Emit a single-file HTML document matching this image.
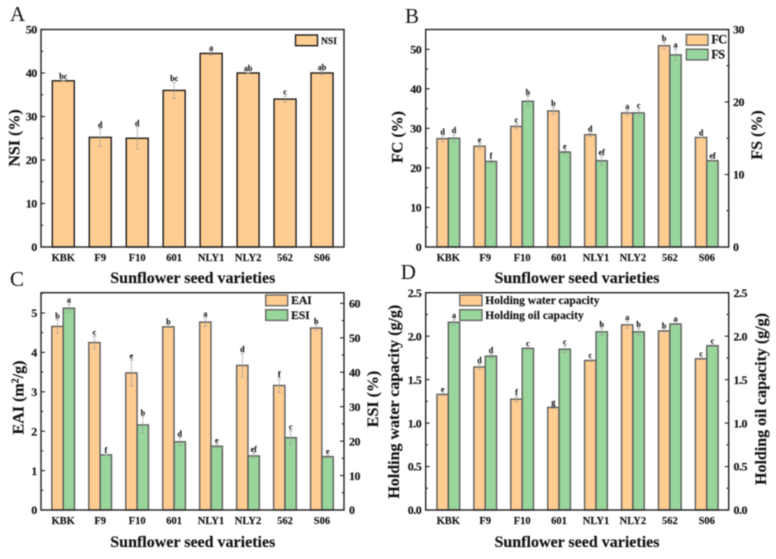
<!DOCTYPE html>
<html>
<head>
<meta charset="utf-8">
<title>Sunflower seed varieties functional properties</title>
<style>
html,body{margin:0;padding:0;background:#fff;}
svg{display:block;filter:blur(0.42px);}
text{font-family:"Liberation Serif",serif;font-weight:bold;fill:#141414;stroke:#141414;stroke-width:0.15px;}
</style>
</head>
<body>
<svg id="figure" xmlns="http://www.w3.org/2000/svg" width="776" height="559" viewBox="0 0 776 559"></svg>
<script>
var categories = ["KBK", "F9", "F10", "601", "NLY1", "NLY2", "562", "S06"];

var nsiValues = [38.2, 25.2, 25.0, 36.0, 44.5, 40.0, 34.0, 40.0];
var nsiErrors = [0.1, 2.0, 2.5, 1.8, 0.4, 0.1, 0.7, 0.4];
var nsiLetters = ["bc", "d", "d", "bc", "a", "ab", "c", "ab"];

var fcValues = [27.4, 25.5, 30.5, 34.4, 28.4, 33.9, 50.9, 27.7];
var fcErrors = [0.7, 0.6, 0.6, 0.9, 0.4, 0.6, 0.8, 0.1];
var fcLetters = ["d", "e", "c", "b", "d", "a", "b", "d"];
var fsValues = [15.0, 11.8, 20.1, 13.1, 11.9, 18.5, 26.5, 11.9];
var fsErrors = [0.5, 0.2, 0.7, 0.2, 0.6, 0.5, 0.8, 0.1];
var fsLetters = ["d", "f", "b", "e", "ef", "c", "a", "ef"];

var eaiValues = [4.66, 4.25, 3.48, 4.65, 4.77, 3.67, 3.16, 4.62];
var eaiErrors = [0.17, 0.16, 0.33, 0.02, 0.11, 0.30, 0.18, 0.07];
var eaiLetters = ["b", "c", "e", "b", "a", "d", "f", "b"];
var esiValues = [58.6, 16.0, 24.7, 19.8, 18.5, 15.7, 21.0, 15.5];
var esiErrors = [1.2, 0.1, 2.4, 1.2, 0.5, 0.7, 2.0, 0.3];
var esiLetters = ["a", "f", "b", "d", "e", "ef", "c", "e"];

var waterValues = [1.33, 1.645, 1.275, 1.18, 1.72, 2.13, 2.06, 1.74];
var waterErrors = [0.01, 0.03, 0.03, 0.01, 0.01, 0.04, 0.01, 0.01];
var waterLetters = ["e", "d", "f", "g", "c", "a", "b", "c"];
var oilValues = [2.16, 1.77, 1.86, 1.85, 2.05, 2.05, 2.14, 1.89];
var oilErrors = [0.03, 0.02, 0.01, 0.04, 0.04, 0.04, 0.01, 0.01];
var oilLetters = ["a", "d", "c", "c", "b", "b", "a", "c"];

var NS = "http://www.w3.org/2000/svg";
var root = document.getElementById("figure");
var ORANGE = "#ffcc92";
var GREEN = "#98d69b";

function mk(tag, parent, geom, content) {
  var el = document.createElementNS(NS, tag);
  for (var k in geom) { el.setAttribute(k, geom[k]); }
  if (content !== undefined) { el.textContent = content; }
  parent.appendChild(el);
  return el;
}

function scale(domMax, top, bottom) {
  return function (v) { return bottom - (v / domMax) * (bottom - top); };
}

function drawTicks(g, side, box, y, max, major, minor, fmt, labelX, anchor) {
  var axisX = side === "left" ? box.left : box.right;
  var dir = side === "left" ? 1 : -1;
  var count = Math.round(max / minor);
  for (var i = 0; i <= count; i++) {
    var v = i * minor;
    var isMajor = Math.abs(v / major - Math.round(v / major)) < 1e-6;
    var tick = mk("line", g, {
      x1: axisX, x2: axisX + dir * (isMajor ? 4 : 2.2), y1: y(v), y2: y(v),
      stroke: "#222", "stroke-width": 1.1
    });
    
    
    if (isMajor) {
      var lab = mk("text", g, {
        x: labelX, y: y(v) + 4.2, "text-anchor": anchor, "font-size": 12, "letter-spacing": "-0.5px"
      }, fmt(v));
      
      
    }
  }
}

function drawSeries(g, box, y, series, offset, width, edge, groupX) {
  categories.forEach(function (cat, i) {
    var cx = groupX(i) + offset;
    var top = y(series.values[i]);
    var bar = mk("rect", g, {
      x: cx - width / 2, y: top, width: width, height: box.bottom - top,
      fill: series.color, stroke: edge, "stroke-width": 1.4
    });
    
    
    var errTop = y(series.values[i] + series.errors[i]);
    var errBottom = y(series.values[i] - series.errors[i]);
    var err = mk("path", g, {
      d: "M" + (cx - 2) + " " + errTop + "H" + (cx + 2) + "M" + cx + " " + errTop + "V" + errBottom + "M" + (cx - 2) + " " + errBottom + "H" + (cx + 2),
      fill: "none", stroke: "#9a9a9a", "stroke-width": 0.6
    });
    
    
    var letter = mk("text", g, {
      x: cx, y: errTop - 1.4, "text-anchor": "middle", "font-size": 8
    }, series.letters[i]);
    
    
  });
}

function drawRotated(g, x, y, text, name) {
  var t = mk("text", g, {
    transform: "translate(" + x + " " + y + ") rotate(-90)",
    "text-anchor": "middle", "font-size": 16
  }, text);
  
  
  return t;
}

function drawLegend(g, items, x, y, w, textX, fontSize, edge, spacing) {
  items.forEach(function (item, i) {
    var swatch = mk("rect", g, {
      x: x, y: y + i * 14.7, width: w, height: 10.7,
      fill: item.color, stroke: edge, "stroke-width": 1.4
    });
    
    
    var label = mk("text", g, {
      x: textX, y: y + i * 14.7 + 9.2, "font-size": fontSize, "letter-spacing": spacing
    }, item.label);
    
    
  });
}

function drawFrame(g, box) {
  var frame = mk("rect", g, {
    x: box.left, y: box.top, width: box.right - box.left, height: box.bottom - box.top,
    fill: "none", stroke: "#222", "stroke-width": 1.4
  });
  
  
}

function drawCategoryLabels(g, groupX, baseline) {
  categories.forEach(function (cat, i) {
    var t = mk("text", g, {
      x: groupX(i), y: baseline, "text-anchor": "middle", "font-size": 10.5
    }, cat);
    
    
  });
}

function drawXTitle(g, x, y) {
  var t = mk("text", g, { x: x, y: y, "text-anchor": "middle", "font-size": 16 }, "Sunflower seed varieties");
  
  
}

function drawPanelLetter(g, x, y, text) {
  var t = mk("text", g, { x: x, y: y, "font-size": 21, style: "font-weight:normal;stroke:none" }, text);
  
  
}

function groupScale(first, step) {
  return function (i) { return first + i * step; };
}

function int(v) { return String(Math.round(v)); }
function one(v) { return v.toFixed(1); }

/* Panel A */
(function () {
  var g = mk("g", root, {});
  
  
  var box = { left: 41, right: 344, top: 29.5, bottom: 247 };
  var y = scale(50, box.top, box.bottom);
  var gx = groupScale(63.3, 36.96);
  drawSeries(g, box, y, { name: "nsi", color: ORANGE, values: nsiValues, errors: nsiErrors, letters: nsiLetters }, 0, 22, "#1c1c1c", gx);
  drawFrame(g, box);
  drawTicks(g, "left", box, y, 50, 10, 5, int, 36.7, "end");
  drawCategoryLabels(g, gx, 261);
  drawXTitle(g, 192.8, 283);
  drawRotated(g, 19.5, 138, "NSI (%)", "y-axis-title");
  drawLegend(g, [{ name: "nsi", label: "NSI", color: ORANGE }], 295.5, 35, 22, 321, 9.6, "#1c1c1c", "0");
  drawPanelLetter(g, 10, 21, "A");
})();

/* Panel B */
(function () {
  var g = mk("g", root, {});
  
  
  var box = { left: 425.7, right: 728.7, top: 29.5, bottom: 247 };
  var yL = scale(55, box.top, box.bottom);
  var yR = scale(30, box.top, box.bottom);
  var gx = groupScale(448.3, 36.92);
  drawSeries(g, box, yL, { name: "fc", color: ORANGE, values: fcValues, errors: fcErrors, letters: fcLetters }, -5.7, 11.3, "#5e5e5e", gx);
  drawSeries(g, box, yR, { name: "fs", color: GREEN, values: fsValues, errors: fsErrors, letters: fsLetters }, 5.7, 11.3, "#5e5e5e", gx);
  drawFrame(g, box);
  drawTicks(g, "left", box, yL, 50, 10, 5, int, 421.3, "end");
  drawTicks(g, "right", box, yR, 30, 10, 5, int, 733, "start");
  drawCategoryLabels(g, gx, 261);
  drawXTitle(g, 577, 283);
  drawRotated(g, 402.5, 137, "FC (%)", "left-y-axis-title");
  drawRotated(g, 762, 135, "FS (%)", "right-y-axis-title");
  drawLegend(g, [
    { name: "fc", label: "FC", color: ORANGE },
    { name: "fs", label: "FS", color: GREEN }
  ], 686.3, 34.5, 21.7, 711.3, 12.5, "#666", "-0.8px");
  drawPanelLetter(g, 405, 23, "B");
})();

/* Panel C */
(function () {
  var g = mk("g", root, {});
  
  
  var box = { left: 41, right: 344, top: 292.7, bottom: 510 };
  var yL = scale(5.516, box.top, box.bottom);
  var yR = scale(63.1, box.top, box.bottom);
  var gx = groupScale(63.2, 36.96);
  drawSeries(g, box, yL, { name: "eai", color: ORANGE, values: eaiValues, errors: eaiErrors, letters: eaiLetters }, -5.7, 11.3, "#5e5e5e", gx);
  drawSeries(g, box, yR, { name: "esi", color: GREEN, values: esiValues, errors: esiErrors, letters: esiLetters }, 5.7, 11.3, "#5e5e5e", gx);
  drawFrame(g, box);
  drawTicks(g, "left", box, yL, 5.5, 1, 0.5, int, 36.7, "end");
  drawTicks(g, "right", box, yR, 60, 10, 5, int, 349, "start");
  drawCategoryLabels(g, gx, 524);
  drawXTitle(g, 192.8, 547);
  var title = drawRotated(g, 23.5, 397.5, "EAI (m", "left-y-axis-title");
  var sup = mk("tspan", title, { dy: -5, "font-size": 10 }, "2");
  
  
  var tail = mk("tspan", title, { dy: 5 }, "/g)");
  
  
  drawRotated(g, 378, 399, "ESI (%)", "right-y-axis-title");
  drawLegend(g, [
    { name: "eai", label: "EAI", color: ORANGE },
    { name: "esi", label: "ESI", color: GREEN }
  ], 265.7, 295, 22, 291, 12, "#666", "-0.3px");
  drawPanelLetter(g, 10, 286, "C");
})();

/* Panel D */
(function () {
  var g = mk("g", root, {});
  
  
  var box = { left: 425.7, right: 728.7, top: 292.7, bottom: 510 };
  var yL = scale(2.5, box.top, box.bottom);
  var yR = scale(2.5, box.top, box.bottom);
  var gx = groupScale(448.3, 36.92);
  drawSeries(g, box, yL, { name: "water", color: ORANGE, values: waterValues, errors: waterErrors, letters: waterLetters }, -5.7, 11.3, "#5e5e5e", gx);
  drawSeries(g, box, yR, { name: "oil", color: GREEN, values: oilValues, errors: oilErrors, letters: oilLetters }, 5.7, 11.3, "#5e5e5e", gx);
  drawFrame(g, box);
  drawTicks(g, "left", box, yL, 2.5, 0.5, 0.25, one, 421.3, "end");
  drawTicks(g, "right", box, yR, 2.5, 0.5, 0.25, one, 733.5, "start");
  drawCategoryLabels(g, gx, 524);
  drawXTitle(g, 577, 547);
  drawRotated(g, 399, 401.7, "Holding water capacity (g/g)", "left-y-axis-title");
  drawRotated(g, 766, 399, "Holding oil capacity (g/g)", "right-y-axis-title");
  drawLegend(g, [
    { name: "water", label: "Holding water capacity", color: ORANGE },
    { name: "oil", label: "Holding oil capacity", color: GREEN }
  ], 459.7, 295, 22.3, 485.3, 11.5, "#666", "0");
  drawPanelLetter(g, 400.7, 279, "D");
})();
</script>
</body>
</html>
